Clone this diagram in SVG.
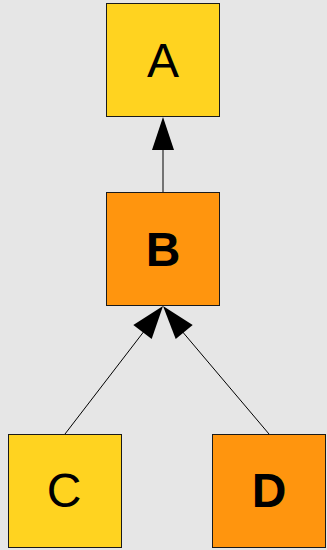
<svg xmlns="http://www.w3.org/2000/svg" width="327" height="550" viewBox="0 0 327 550">
<style>
.box{stroke:#1a1a1a;stroke-width:1}
.y{fill:#ffd320}
.o{fill:#ff950e}
.t{font-family:"Liberation Sans",Arial,sans-serif;font-size:48px;text-anchor:middle;fill:#000}
.b{font-weight:bold}
.e{stroke:#000;stroke-width:1;fill:none}
.h{fill:#000;stroke:none}
</style>
<rect width="327" height="550" fill="#e6e6e6"/>
<g id="edges">
<line class="e" x1="163" y1="192" x2="163" y2="148"/>
<polygon class="h" points="163,117 174,150 152,150"/>
<line class="e" x1="65" y1="434" x2="145" y2="330"/>
<polygon class="h" points="163,306 151.7,339 133.3,325"/>
<line class="e" x1="269" y1="434" x2="181" y2="330"/>
<polygon class="h" points="163,306 192.7,325 175.7,339"/>
</g>
<g id="node-A">
<rect class="box y" x="106.5" y="3.5" width="113" height="113"/>
<text class="t" x="163" y="77">A</text>
</g>
<g id="node-B">
<rect class="box o" x="106.5" y="192.5" width="113" height="113"/>
<text class="t b" x="163" y="266">B</text>
</g>
<g id="node-C">
<rect class="box y" x="8.5" y="434.5" width="113" height="113"/>
<text class="t" x="64" y="507">C</text>
</g>
<g id="node-D">
<rect class="box o" x="212.5" y="434.5" width="113" height="113"/>
<text class="t b" x="269" y="507">D</text>
</g>
</svg>
